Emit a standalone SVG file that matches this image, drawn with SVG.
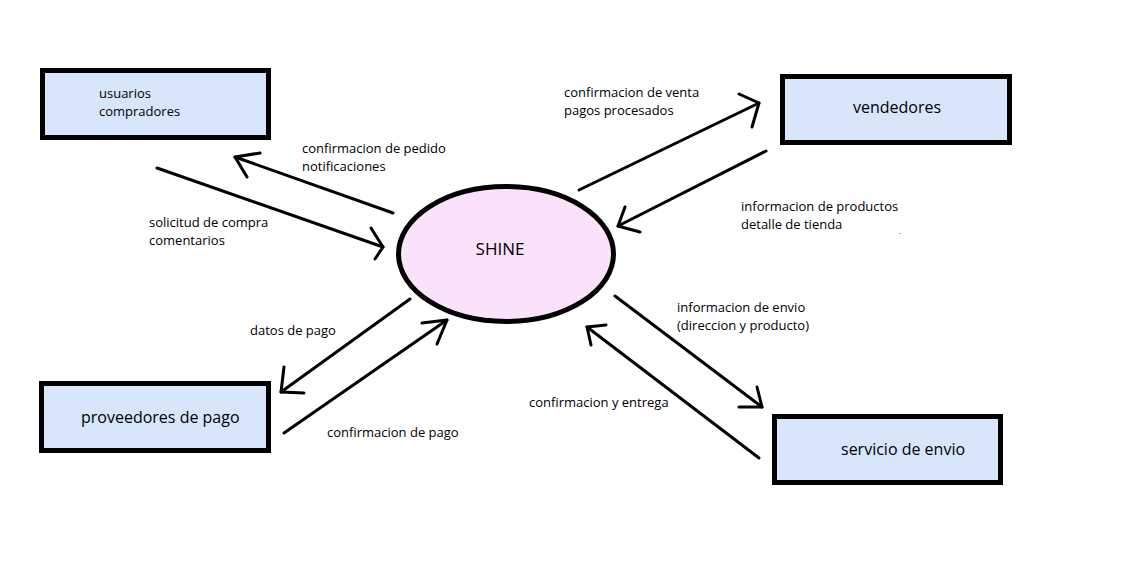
<svg xmlns="http://www.w3.org/2000/svg" width="1142" height="562" viewBox="0 0 1142 562">
<style>
.box{fill:#d7e6fb;stroke:#000;stroke-width:5}
.ell{fill:#fae2fb;stroke:#000;stroke-width:5}
.t{font-family:"Open Sans","Noto Sans",sans-serif;font-size:13px;fill:#000}
.tl{font-family:"Open Sans","Noto Sans",sans-serif;font-size:16px;fill:#000}
.c line,.c polyline{stroke:#000;stroke-width:3;fill:none;stroke-linecap:round;stroke-linejoin:round}
</style>
<rect width="1142" height="562" fill="#fff"/>
<g id="usuarios">
<rect class="box" x="42.5" y="70.5" width="226" height="67"/>
<text class="t" x="99" y="98">usuarios</text>
<text class="t" x="99" y="116">compradores</text>
</g>
<g id="vendedores">
<rect class="box" x="782.5" y="76.5" width="227" height="66"/>
<text class="tl" x="897" y="113" text-anchor="middle">vendedores</text>
</g>
<g id="proveedores">
<rect class="box" x="41.5" y="383.5" width="227" height="67"/>
<text class="tl" x="81" y="423">proveedores de pago</text>
</g>
<g id="servicio">
<rect class="box" x="774.5" y="416.5" width="226" height="66"/>
<text class="tl" x="841" y="455">servicio de envio</text>
</g>
<g id="shine">
<ellipse class="ell" cx="506" cy="254" rx="107.5" ry="67.5"/>
<text class="tl" x="500" y="255" text-anchor="middle" style="font-size:17px">SHINE</text>
</g>
<g id="connectors" class="c">
<line x1="393" y1="213" x2="235" y2="157"/>
<polyline points="260,153 235,157 247,177"/>
<line x1="157" y1="168" x2="383" y2="247"/>
<polyline points="371,228 383,247 375,259"/>
<line x1="579" y1="190" x2="759" y2="103"/>
<polyline points="739,94 759,103 752,127"/>
<line x1="766" y1="151" x2="618" y2="226"/>
<polyline points="625,207 618,226 640,232"/>
<line x1="410" y1="299" x2="281" y2="392"/>
<polyline points="284,367 281,392 304,393"/>
<line x1="284" y1="433" x2="447" y2="320"/>
<polyline points="422,323 447,320 437,344"/>
<line x1="615" y1="296" x2="762" y2="407"/>
<polyline points="757,387 762,407 739,407"/>
<line x1="759" y1="458" x2="587" y2="327"/>
<polyline points="606,325 587,327 591,345"/>
</g>
<g id="labels">
<text class="t" x="302" y="153">confirmacion de pedido</text>
<text class="t" x="302" y="171">notificaciones</text>
<text class="t" x="149" y="227">solicitud de compra</text>
<text class="t" x="149" y="245">comentarios</text>
<text class="t" x="564" y="97">confirmacion de venta</text>
<text class="t" x="564" y="115">pagos procesados</text>
<text class="t" x="741" y="211">informacion de productos</text>
<text class="t" x="741" y="229">detalle de tienda</text>
<text class="t" x="899" y="234" style="font-size:8px">.</text>
<text class="t" x="250" y="335">datos de pago</text>
<text class="t" x="327" y="437">confirmacion de pago</text>
<text class="t" x="677" y="312">informacion de envio</text>
<text class="t" x="677" y="330">(direccion y producto)</text>
<text class="t" x="529" y="407">confirmacion y entrega</text>
</g>
</svg>
